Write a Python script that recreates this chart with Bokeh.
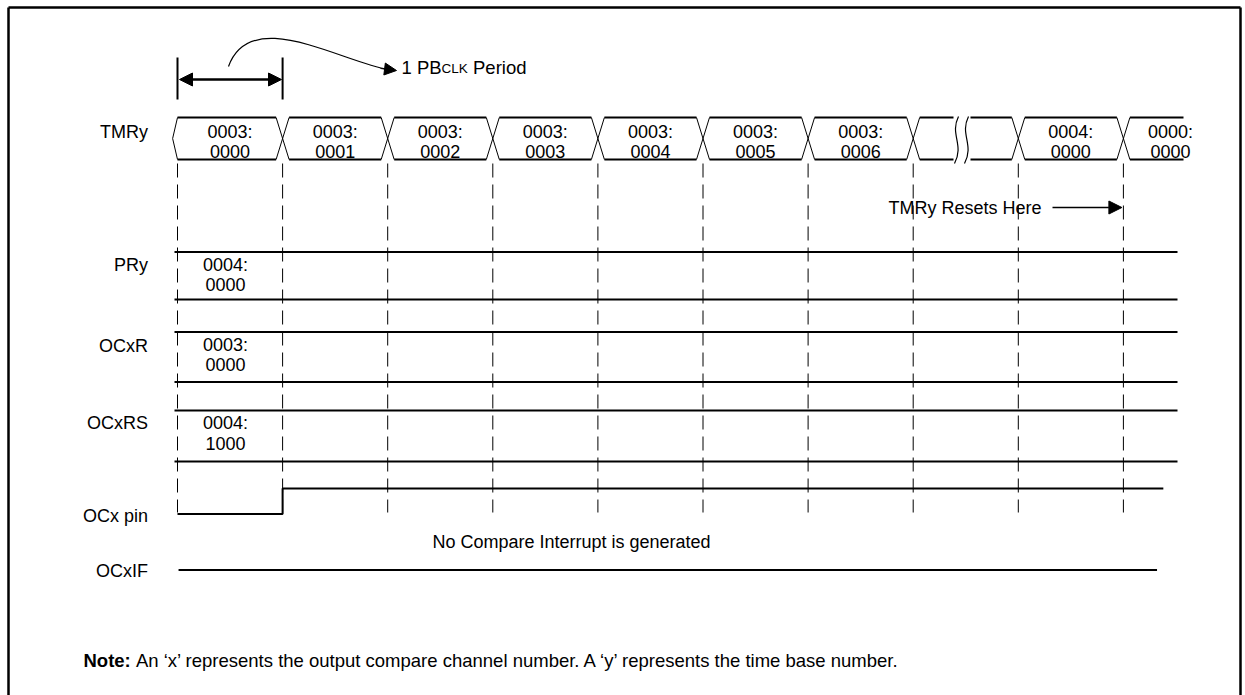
from bokeh.plotting import figure
from bokeh.models import Range1d, Arrow, NormalHead
from bokeh.embed import file_html
from bokeh.resources import INLINE
from bokeh.core.properties import value

# ---------------- data ----------------
signals = ["TMRy", "PRy", "OCxR", "OCxRS", "OCx pin", "OCxIF"]
tmr_start = [0, 1, 2, 3, 4, 5, 6, 7, 8, 9]          # cycle where each TMRy value starts
tmr_hi = ["0003:", "0003:", "0003:", "0003:", "0003:", "0003:", "0003:", "", "0004:", "0000:"]
tmr_lo = ["0000", "0001", "0002", "0003", "0004", "0005", "0006", "", "0000", "0000"]
break_cell = 7                                       # cell drawn with the time-break mark
reset_cycle = 9                                      # TMRy resets here
reg_names = ["PRy", "OCxR", "OCxRS"]
reg_hi = ["0004:", "0003:", "0004:"]
reg_lo = ["0000", "0000", "1000"]
pin_t = [0, 1, 1, 9.38]                              # OCx pin edges (cycles)
pin_lvl = [0, 0, 1, 1]
ocxif_t = [0.01, 9.32]
ocxif_lvl = [0, 0]
n_edges = 10
period_text = ["1 PB", "CLK", "Period"]
note_bold = "Note:"
note_text = "An \u2018x\u2019 represents the output compare channel number. A \u2018y\u2019 represents the time base number."
no_int_text = "No Compare Interrupt is generated"
reset_text = "TMRy Resets Here"

# ---------------- layout (pixels) ----------------
X0, CW = 177.0, 105.1
def tx(px):
    return (px - X0) / CW

W, H = 1245, 695
FONT = "Liberation Sans"
FS = "18px"
BLACK = "black"

BUS_TOP, BUS_BOT = 117.0, 159.0
BUS_MID = (BUS_TOP + BUS_BOT) / 2
BUS_T1, BUS_T2 = 131.0, 150.5
D = tx(X0 + 6.5)
reg_lines = {"PRy": (251.5, 299), "OCxR": (331.5, 381.5), "OCxRS": (410, 461)}
label_y = {"TMRy": 131, "PRy": 264, "OCxR": 345, "OCxRS": 422, "OCx pin": 515, "OCxIF": 570}
PIN_HI, PIN_LO = 488.0, 513.5
IF_Y = 569.5

p = figure(width=W, height=H, x_range=Range1d(tx(0), tx(W)), y_range=Range1d(H, 0),
           output_backend="svg", toolbar_location=None, min_border=0,
           x_axis_location=None, y_axis_location=None)
p.grid.visible = False
p.outline_line_color = None
p.background_fill_color = "white"
p.border_fill_color = "white"

def txt(x, y, t, align="center", size=FS, style="normal"):
    p.text(x=x, y=y, text=t, text_font=value(FONT), text_font_size=value(size),
           text_align=align, text_baseline="middle", text_color=BLACK, text_font_style=style)

# frame (left, top, right; continues below the window)
p.segment(x0=[tx(8), tx(8), tx(1240)], y0=[7, 7, 7], x1=[tx(8), tx(1240), tx(1240)], y1=[700, 7, 700],
          line_color=BLACK, line_width=2.5)

# dashed cycle lines
edges = list(range(n_edges))
p.segment(x0=edges, y0=[BUS_BOT + 4] * n_edges, x1=edges, y1=[512] * n_edges,
          line_color=BLACK, line_width=1, line_dash="14 7")

# period marker bars + double arrow + curved pointer
p.segment(x0=[0, 1], y0=[57, 57], x1=[0, 1], y1=[99, 99], line_color=BLACK, line_width=2)
p.add_layout(Arrow(start=NormalHead(size=13, fill_color=BLACK, line_color=BLACK),
                   end=NormalHead(size=13, fill_color=BLACK, line_color=BLACK),
                   x_start=tx(179), y_start=79, x_end=tx(281), y_end=79, line_width=2.5))
p.bezier(x0=[tx(228)], y0=[66], x1=[tx(388)], y1=[69], cx0=[tx(250)], cy0=[5],
         cx1=[tx(340)], cy1=[61], line_color=BLACK, line_width=1.2)
p.add_layout(Arrow(end=NormalHead(size=12, fill_color=BLACK, line_color=BLACK),
                   x_start=tx(380), y_start=68, x_end=tx(396), y_end=70, line_width=1.2))
fs_big, fs_small = 18.5, 13.5
x_pb = 401
w_pb = (0.556 + 0.278 + 0.667 + 0.667) * fs_big
w_clk = (0.722 + 0.556 + 0.667) * fs_small
txt([tx(x_pb)], [66.5], [period_text[0]], align="left", size="18.5px")
txt([tx(x_pb + w_pb)], [68], [period_text[1]], align="left", size="13.5px")
txt([tx(x_pb + w_pb + w_clk + 0.278 * fs_big)], [66.5], [period_text[2]], align="left", size="18.5px")

# TMRy bus
hx0, hx1, hy0, hy1 = [], [], [], []       # thick horizontal
dx0, dx1, dy0, dy1 = [], [], [], []       # thin diagonals
last_end = tx(1183)
brk_a, brk_b = tx(953), tx(970)
for i, s in enumerate(tmr_start):
    e = s + 1 if i < len(tmr_start) - 1 else last_end
    a = s + (D if i > 0 else 0)
    b = e - D if i < len(tmr_start) - 1 else e
    segs = [(a, brk_a), (brk_b, b)] if i == break_cell else [(a, b)]
    for (u, v) in segs:
        for yy in (BUS_TOP, BUS_BOT):
            hx0.append(u); hx1.append(v); hy0.append(yy); hy1.append(yy)
    if i == 0:
        dx0 += [s, s - D * 0.75]; dy0 += [BUS_TOP, BUS_MID]
        dx1 += [s - D * 0.75, s]; dy1 += [BUS_MID, BUS_BOT]
    else:
        dx0 += [s - D, s - D]; dy0 += [BUS_TOP, BUS_BOT]
        dx1 += [s + D, s + D]; dy1 += [BUS_BOT, BUS_TOP]
p.segment(x0=hx0, y0=hy0, x1=hx1, y1=hy1, line_color=BLACK, line_width=2)
p.segment(x0=dx0, y0=dy0, x1=dx1, y1=dy1, line_color=BLACK, line_width=1)
# break mark
p.bezier(x0=[tx(958), tx(968)], y0=[BUS_TOP - 1] * 2, x1=[tx(954), tx(964)], y1=[BUS_BOT + 4] * 2,
         cx0=[tx(949), tx(959)], cy0=[BUS_MID - 4] * 2, cx1=[tx(964), tx(974)], cy1=[BUS_MID + 6] * 2,
         line_color=BLACK, line_width=1.2)
centers = [s + 0.5 if i < len(tmr_start) - 1 else tx(1170) for i, s in enumerate(tmr_start)]
txt(centers, [BUS_T1] * len(centers), tmr_hi)
txt(centers, [BUS_T2] * len(centers), tmr_lo)

# reset annotation
txt([tx(888)], [207], [reset_text], align="left")
p.add_layout(Arrow(end=NormalHead(size=13, fill_color=BLACK, line_color=BLACK),
                   x_start=tx(1052), y_start=207, x_end=reset_cycle - tx(X0 + 1.5), y_end=207, line_width=1.5))

# register rows
for name, hi, lo in zip(reg_names, reg_hi, reg_lo):
    top, bot = reg_lines[name]
    p.segment(x0=[tx(174), tx(174)], y0=[top, bot], x1=[tx(1177), tx(1177)], y1=[top, bot],
              line_color=BLACK, line_width=2)
    txt([tx(225)], [top + 12.5], [hi])
    txt([tx(225)], [top + 32.5], [lo])

# OCx pin
p.line(x=pin_t, y=[PIN_HI if v else PIN_LO for v in pin_lvl], line_color=BLACK, line_width=2)
txt([tx(571)], [541.5], [no_int_text])
# OCxIF
p.line(x=ocxif_t, y=[IF_Y if v == 0 else PIN_HI for v in ocxif_lvl], line_color=BLACK, line_width=2)

# labels
for s in signals:
    txt([tx(147.5)], [label_y[s]], [s], align="right")

# note
w_note = (0.722 + 0.611 + 0.333 + 0.556 + 0.333 + 0.278) * 18.5
txt([tx(83)], [660], [note_bold], align="left", style="bold", size="18.5px")
txt([tx(83 + w_note)], [660], [note_text], align="left", size="18.5px")

open("out.html", "w").write(file_html(p, INLINE))
